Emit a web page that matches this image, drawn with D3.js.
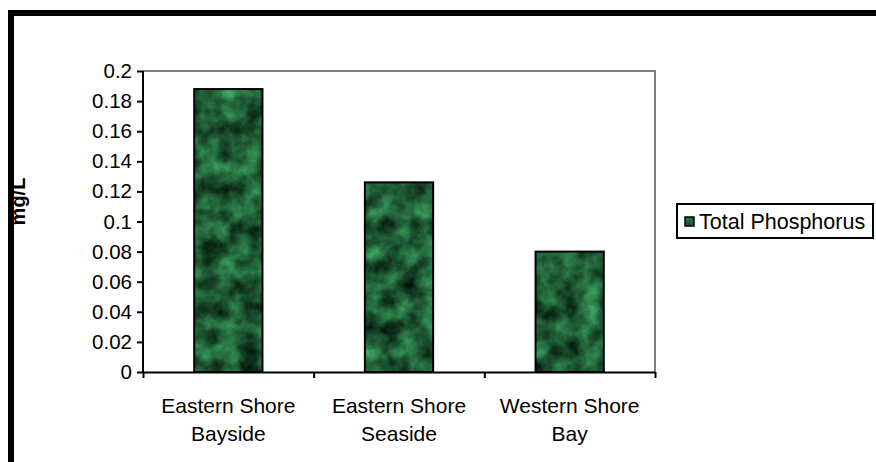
<!DOCTYPE html>
<html><head><meta charset="utf-8">
<script src="https://cdn.jsdelivr.net/npm/d3@7"></script>
<style>html,body{margin:0;padding:0;background:#fff;overflow:hidden}</style>
</head><body>
<svg id="c" width="876" height="462"></svg>
<script>
const categories = [["Eastern Shore","Bayside"],["Eastern Shore","Seaside"],["Western Shore","Bay"]];
const seriesName = "Total Phosphorus";
const values = [0.188, 0.126, 0.080];
const yTicks = [0, 0.02, 0.04, 0.06, 0.08, 0.1, 0.12, 0.14, 0.16, 0.18, 0.2];
const yTickLabels = ["0","0.02","0.04","0.06","0.08","0.1","0.12","0.14","0.16","0.18","0.2"];
const yTitle = "mg/L";

const svg = d3.select("#c");
const FONT = "'Liberation Sans', Arial, sans-serif";
const plot = {left:143, right:655, top:71, bottom:372};

const defs = svg.append("defs");
const f = defs.append("filter").attr("id","marble").attr("x",0).attr("y",0).attr("width",1).attr("height",1)
  .attr("color-interpolation-filters","sRGB");
f.append("feTurbulence").attr("type","fractalNoise").attr("baseFrequency","0.05").attr("numOctaves",5).attr("seed",11).attr("result","noise");
f.append("feColorMatrix").attr("in","noise").attr("type","matrix")
 .attr("values","0.3 0 0 0 -0.03  0.75 0 0 0 -0.02  0.45 0 0 0 -0.02  0 0 0 0 1").attr("result","col");
f.append("feComposite").attr("in","col").attr("in2","SourceGraphic").attr("operator","in");

const idx = categories.map((d,i)=>i);
const x = d3.scaleBand().domain(idx).range([plot.left, plot.right]).paddingInner(0.6).paddingOuter(0.3);
const y = d3.scaleLinear().domain([0,0.2]).range([plot.bottom, plot.top]);

// gray plot border (top and right)
svg.append("path").attr("d",`M${plot.left},${y(0.2)}H${plot.right}V${y(0)}`)
  .attr("fill","none").attr("stroke","#808080").attr("stroke-width",2);

// bars
const bars = svg.append("g");
bars.selectAll("rect.fill").data(values).join("rect")
  .attr("x",(d,i)=>x(i)).attr("y",d=>y(d)).attr("width",x.bandwidth()).attr("height",d=>y(0)-y(d))
  .attr("fill","#1d5a35").attr("filter","url(#marble)");
bars.selectAll("rect.edge").data(values).join("rect")
  .attr("x",(d,i)=>x(i)).attr("y",d=>y(d)).attr("width",x.bandwidth()).attr("height",d=>y(0)-y(d))
  .attr("fill","none").attr("stroke","#000").attr("stroke-width",2);

// y axis
const yAxis = d3.axisLeft(y).tickValues(yTicks).tickFormat((d,i)=>yTickLabels[i]).tickSize(6).tickPadding(5);
const gy = svg.append("g").attr("transform",`translate(${plot.left},0)`).call(yAxis);
gy.select(".domain").attr("stroke","#000").attr("stroke-width",2).attr("d",`M0,${y(0)}V${y(0.2)}`);
gy.selectAll(".tick line").attr("stroke","#000").attr("stroke-width",2);
gy.selectAll(".tick text").attr("font-family",FONT).attr("font-size",20.5).attr("fill","#000");

// x axis
const boundaries = idx.map(i=>x(i) - x.step()*0.3).concat([x(idx.length-1) - x.step()*0.3 + x.step()]);
const xLin = d3.scaleLinear().domain([0,idx.length]).range([boundaries[0], boundaries[idx.length]]);
const xAxis = d3.axisBottom(xLin).tickValues(d3.range(idx.length+1)).tickFormat("").tickSize(6).tickSizeOuter(0);
const gx = svg.append("g").attr("transform",`translate(0,${y(0)})`).call(xAxis);
gx.select(".domain").attr("stroke","#000").attr("stroke-width",2);
gx.selectAll(".tick line").attr("stroke","#000").attr("stroke-width",2);

const xl = svg.append("g").attr("font-family",FONT).attr("font-size",21).attr("text-anchor","middle");
categories.forEach((lines,i)=>{
  const t = xl.append("text").attr("x", x(i)+x.bandwidth()/2).attr("y", y(0)+41);
  lines.forEach((ln,j)=>t.append("tspan").attr("x", x(i)+x.bandwidth()/2).attr("dy", j===0?0:28).text(ln));
});

// y title
svg.append("text").attr("transform",`translate(25,${(plot.top+plot.bottom)/2 - 20}) rotate(-90)`)
  .attr("text-anchor","middle").attr("font-family",FONT).attr("font-weight","bold").attr("font-size",20).text(yTitle);

// legend
const lg = svg.append("g").attr("transform",`translate(677,204)`);
lg.append("rect").attr("x",0).attr("y",0).attr("width",196).attr("height",34).attr("fill","#fff").attr("stroke","#000").attr("stroke-width",2);
lg.append("rect").attr("x",8).attr("y",13).attr("width",9).attr("height",9).attr("fill","#1d5a35").attr("filter","url(#marble)");
lg.append("rect").attr("x",8).attr("y",13).attr("width",9).attr("height",9).attr("fill","none").attr("stroke","#000").attr("stroke-width",1.5);
lg.append("text").attr("x",22).attr("y",25).attr("font-family",FONT).attr("font-size",21.5).text(seriesName);

// outer frame (only top/left visible)
svg.append("rect").attr("x",11).attr("y",13).attr("width",1000).attr("height",600)
  .attr("fill","none").attr("stroke","#000").attr("stroke-width",6);
</script>
</body></html>
